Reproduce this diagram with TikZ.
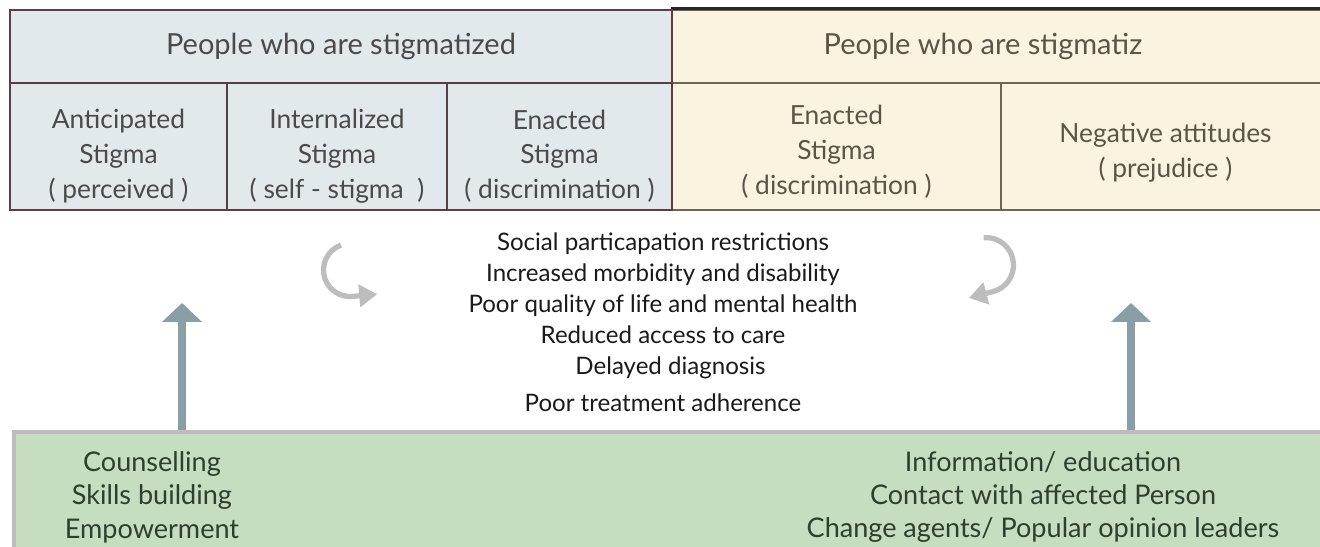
\documentclass[tikz,border=0pt]{standalone}
\usepackage{fontspec}
\setmainfont{Lato}
\usepackage{xcolor}
\usetikzlibrary{arrows.meta,positioning}

\definecolor{fillL}{HTML}{E1E9EC}
\definecolor{fillR}{HTML}{FAF3E0}
\definecolor{bordL}{HTML}{5B3D42}
\definecolor{bordR}{HTML}{6E6652}
\definecolor{txtL}{HTML}{4A4A4A}
\definecolor{txtR}{HTML}{5C5446}
\definecolor{txtM}{HTML}{1A1A1A}
\definecolor{txtG}{HTML}{2E3F2C}
\definecolor{fillG}{HTML}{C6DDC0}
\definecolor{bordG}{HTML}{BDBDBD}
\definecolor{arrG}{HTML}{8A9EA5}
\definecolor{arcG}{HTML}{BDBDBD}

% raises the first line so the cell text sits a little lower
\newcommand{\cellgap}[1][22pt]{\rule{0pt}{#1}}

\begin{document}
\begin{tikzpicture}[
    x=0.02cm, y=-0.02cm,
    cellL/.style={draw=bordL, fill=fillL, line width=1.3pt, inner sep=0pt, align=center, text=txtL, font=\fontsize{15}{19.8}\selectfont},
    cellR/.style={cellL, draw=bordR, fill=fillR, text=txtR},
    hdr/.style={minimum height=1.46cm, font=\fontsize{16.5}{18}\selectfont},
    lower/.style={minimum height=2.54cm},
    outcome/.style={align=center, text=txtM, font=\fontsize{13.7}{17.7}\selectfont},
    tool/.style={align=center, text=txtG, font=\fontsize{15.4}{19}\selectfont},
    uparrow/.style={-{Triangle[length=0.38cm,width=0.78cm]}, line width=0.16cm, draw=arrG},
    turn/.style={-{Triangle[length=0.36cm,width=0.44cm]}, line width=3pt, draw=arcG},
]
\useasboundingbox (0,0) rectangle (1320,547);
\clip (0,0) rectangle (1320,547);

% Right table: people who stigmatize
\node[cellR, hdr, minimum width=13.16cm] (hdrR) at (1001,46.5) {People who are stigmatiz\hspace*{0.72cm}};
\node[cellR, lower, minimum width=6.58cm] (enactR) at (836.5,146.5) {\cellgap[17pt]Enacted\\Stigma\\( discrimination )};
\node[cellR, lower, minimum width=6.58cm] (negat) at (1165.5,146.5) {\cellgap[18pt]Negative attitudes\\( prejudice )};
\draw[line width=1.6pt, draw=black!85] (hdrR.north west) -- (hdrR.north east);

% Left table: people who are stigmatized
\node[cellL, hdr, minimum width=13.24cm] (hdrL) at (341,46.5) {People who are stigmatized};
\node[cellL, lower, minimum width=4.34cm] (antic) at (118.5,146.5) {\cellgap Anticipated\\Stigma\\( perceived )};
\node[cellL, lower, minimum width=4.4cm] (intern) at (337,146.5) {\cellgap Internalized\\Stigma\\( self - stigma~~)};
\node[cellL, lower, minimum width=4.5cm] (enactL) at (559.5,146.5) {\cellgap Enacted\\Stigma\\( discrimination )};

% Consequences in the middle
\node[outcome] (conseq) at (663,322) {Social particapation restrictions\\Increased morbidity and disability\\Poor quality of life and mental health\\Reduced access to care\\\hspace*{0.3cm}Delayed diagnosis\\[3pt]Poor treatment adherence};

% Turning arrows
\begin{scope}[shift={(350,270)}, x=1cm, y=1cm]
  \draw[turn] (110:0.53) arc[start angle=110, end angle=275, radius=0.53] -- ++(5:0.5);
\end{scope}
\begin{scope}[shift={(986,265)}, x=1cm, y=1cm]
  \draw[turn] (95:0.55) arc[start angle=95, end angle=-75, radius=0.55] -- ++(-165:0.5);
\end{scope}

% Interventions
\node[draw=bordG, fill=fillG, line width=2pt, minimum width=26.52cm, minimum height=2.76cm] (green) at (677,501) {};
\node[tool] (indiv) at (152,497) {Counselling\\Skills building\\Empowerment};
\node[tool] (public) at (1043,497) {Information/ education\\Contact with affected Person\\Change agents/ Popular opinion leaders};

\coordinate (tipL) at (182,303);
\coordinate (tipR) at (1131,303);
\draw[uparrow] (green.north -| tipL) -- (tipL);
\draw[uparrow] (green.north -| tipR) -- (tipR);

\end{tikzpicture}
\end{document}
